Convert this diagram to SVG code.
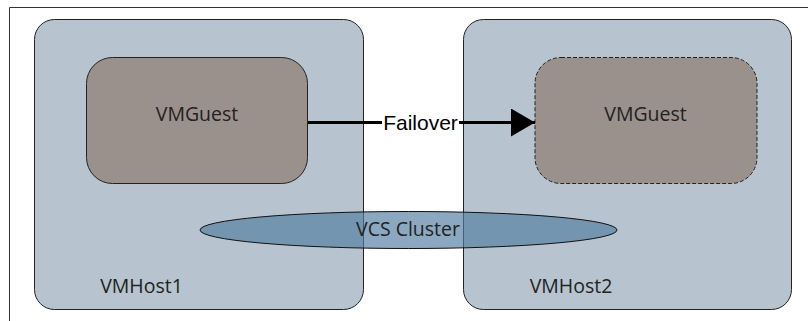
<svg xmlns="http://www.w3.org/2000/svg" width="808" height="321" viewBox="0 0 808 321">
<style>
.host{fill:#b7c4cf;stroke:#222;stroke-width:1}
.guest{fill:#9b918c;stroke:#222;stroke-width:1}
.dash{stroke-dasharray:4 2}
.lbl{font-family:"Open Sans","Noto Sans",sans-serif;font-size:19.5px;fill:#222;text-anchor:middle}
.conn{stroke:#000;stroke-width:3;fill:none}
.flbl{font-family:"Liberation Sans",Arial,sans-serif;font-size:21px;fill:#000;text-anchor:middle}
</style>
<defs>
<marker id="arr" markerUnits="userSpaceOnUse" markerWidth="24" markerHeight="28" refX="24" refY="14" orient="auto">
<path d="M0,0 L24,14 L0,28 Z" fill="#000"/>
</marker>
</defs>
<rect width="808" height="321" fill="#fff"/>
<g id="frame">
<path d="M9.5,321 V7.5 H808" fill="none" stroke="#333" stroke-width="1"/>
</g>
<g id="host1">
<rect class="host" x="34.5" y="19.5" width="329" height="290" rx="20" ry="20"/>
<text class="lbl" x="141.5" y="293">VMHost1</text>
</g>
<g id="host2">
<rect class="host" x="463.5" y="19.5" width="328" height="290" rx="20" ry="20"/>
<text class="lbl" x="571" y="293">VMHost2</text>
</g>
<g id="guest1">
<rect class="guest" x="86.5" y="57.5" width="221" height="126" rx="26" ry="26"/>
<text class="lbl" x="197" y="121">VMGuest</text>
</g>
<g id="guest2">
<rect class="guest dash" x="535" y="57.5" width="222" height="126" rx="26" ry="26"/>
<text class="lbl" x="645.5" y="121">VMGuest</text>
</g>
<g id="cluster">
<ellipse cx="408.5" cy="230" rx="208.5" ry="18.5" fill="#537da1" fill-opacity="0.67" stroke="#111" stroke-width="1"/>
<text class="lbl" x="408" y="236">VCS Cluster</text>
</g>
<g id="connectors">
<line class="conn" x1="308" y1="122.5" x2="382" y2="122.5"/>
<line class="conn" x1="459" y1="122.5" x2="535" y2="122.5" marker-end="url(#arr)"/>
<text class="flbl" x="420.5" y="129.5">Failover</text>
</g>
</svg>
